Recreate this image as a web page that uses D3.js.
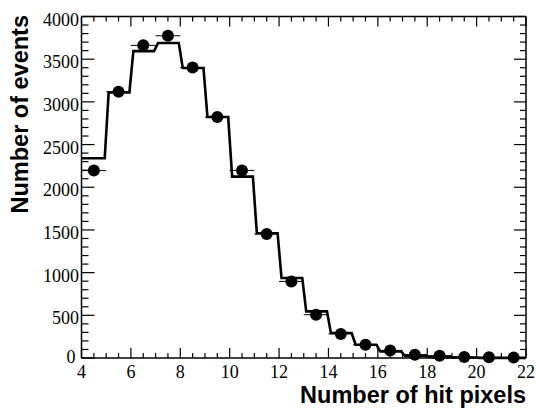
<!DOCTYPE html>
<html><head><meta charset="utf-8">
<script src="https://cdn.jsdelivr.net/npm/d3@7"></script>
<style>body{margin:0;background:#fff}svg{display:block}
.tl{font-family:"Liberation Serif","DejaVu Serif","Times New Roman",serif;font-size:18px}
.ti{font-family:"Liberation Sans",Arial,sans-serif;font-weight:bold;font-size:23.5px}</style>
</head><body>
<svg id="c" width="537" height="410"></svg>
<script>
// ---- data ----
const binLow = [4,5,6,7,8,9,10,11,12,13,14,15,16,17,18,19,20,21];
const binWidth = 1;
const histValues = [2340,3110,3595,3690,3396,2822,2125,1462,937,546,293,156,78,25,10,5,2,1];
const dataValues = [2195,3118,3662,3774,3403,2822,2197,1452,897,507,282,156,89,39,27,12,8,5];
const xTickLabels = ["4","6","8","10","12","14","16","18","20","22"];
const yTickLabels = ["0","500","1000","1500","2000","2500","3000","3500","4000"];
const xTitle = "Number of hit pixels";
const yTitle = "Number of events";

const svg = d3.select("#c");
const L = 81.5, R = 526, T = 16.5, B = 358;
const x = d3.scaleLinear().domain([4,22]).range([L,R]);
const y = d3.scaleLinear().domain([0,4000]).range([B,T]);

// ---- histogram (step line with slightly slanted edges) ----
const sl = 0.06, sr = 0.1;
const pts = [];
binLow.forEach((lo,i)=>{
  const hi = lo + binWidth;
  const a = i===0 ? lo : lo + sr;
  const b = i===binLow.length-1 ? hi : hi - sl;
  pts.push([x(a), y(histValues[i])]);
  pts.push([x(b), y(histValues[i])]);
});
svg.append("path").attr("d", d3.line()(pts))
  .attr("fill","none").attr("stroke","#000").attr("stroke-width",2.6)
  .attr("stroke-linejoin","miter");

// ---- data points with error bars ----
const g = svg.append("g");
binLow.forEach((lo,i)=>{
  const cx = lo + binWidth/2, v = dataValues[i], e = Math.sqrt(v);
  g.append("line").attr("x1",x(lo)).attr("x2",x(lo+binWidth))
    .attr("y1",y(v)).attr("y2",y(v)).attr("stroke","#000").attr("stroke-width",1);
  g.append("line").attr("x1",x(cx)).attr("x2",x(cx))
    .attr("y1",y(v-e)).attr("y2",y(v+e)).attr("stroke","#000").attr("stroke-width",1);
  g.append("circle").attr("cx",x(cx)).attr("cy",y(v)).attr("r",6).attr("fill","#000");
});

// ---- axes ----
const axG = svg.append("g").attr("stroke","#000");
function tick(x1,y1,x2,y2,w){axG.append("line").attr("x1",x1).attr("y1",y1).attr("x2",x2).attr("y2",y2).attr("stroke-width",w||1.2);}
tick(L,B,R,B,1.5); tick(L,T,R,T,1.5); tick(L,T,L,B,1.5); tick(R,T,R,B,1.5);
d3.range(4,22.001,0.5).forEach(v=>{
  const major = Math.abs(v/2-Math.round(v/2))<1e-6;
  const len = major?10:5;
  tick(x(v),B,x(v),B-len); tick(x(v),T,x(v),T+len);
});
d3.range(0,4000.1,100).forEach(v=>{
  const major = v%500===0;
  tick(L,y(v),L+(major?13:7),y(v)); tick(R,y(v),R-(major?12:6),y(v));
});
// labels
const tl = svg.append("g").attr("class","tl").attr("fill","#000");
xTickLabels.forEach(t=>{
  tl.append("text").attr("x",x(+t)).attr("y",B+20).attr("text-anchor","middle").text(t);
});
yTickLabels.forEach(t=>{
  const zero = (+t===0);
  tl.append("text").attr("x",L-(zero?6:2.5)).attr("y",y(+t)+(zero?4.5:9))
    .attr("text-anchor","end").text(t);
});
svg.append("text").attr("class","ti").attr("x",R).attr("y",403).attr("text-anchor","end").text(xTitle);
svg.append("text").attr("class","ti").attr("transform","translate(28,15) rotate(-90)")
  .attr("text-anchor","end").text(yTitle);
</script>
</body></html>
